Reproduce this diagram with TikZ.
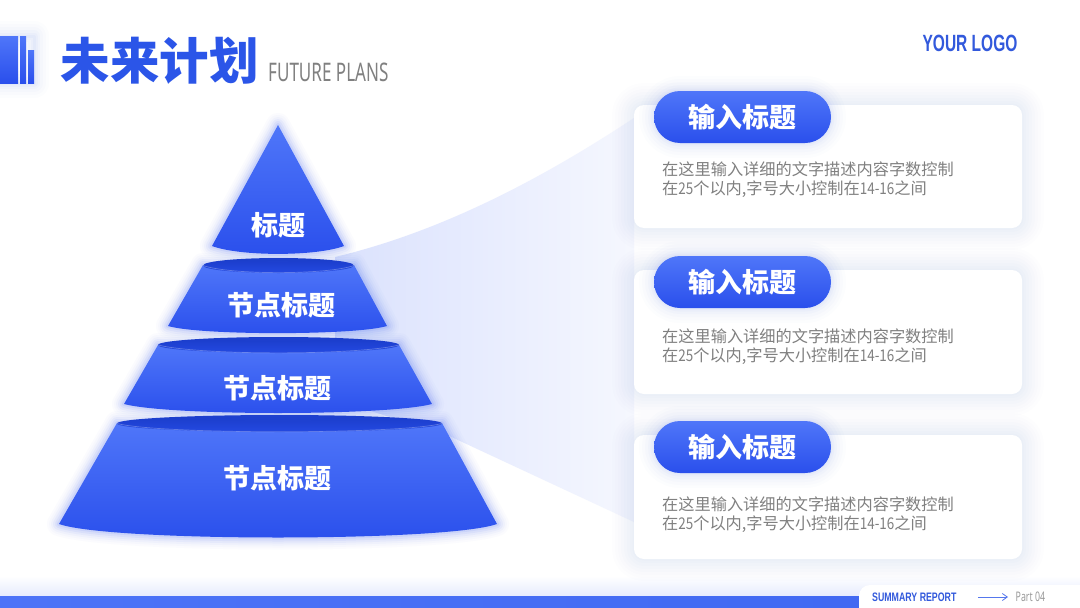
\documentclass[tikz,border=0pt]{standalone}
\usepackage{fontspec}
\usetikzlibrary{arrows.meta}
\setmainfont{Noto Sans CJK SC}
\newfontfamily\dig[FakeStretch=.83]{Noto Sans CJK SC}
\newfontfamily\cond[FakeStretch=0.666]{Noto Sans}
\newfontfamily\condb[FakeStretch=0.66]{Liberation Sans}
\newfontfamily\condc[FakeStretch=0.715]{Liberation Sans}
\definecolor{brand}{HTML}{2B55E8}
\definecolor{logoblue}{HTML}{3259DC}
\definecolor{bluetop}{HTML}{4F76F9}
\definecolor{bluebot}{HTML}{2A4FEC}
\definecolor{disctop}{HTML}{1A3CC8}
\definecolor{discbot}{HTML}{2449E2}
\definecolor{halo}{HTML}{3D63F5}
\definecolor{graytxt}{HTML}{808080}
\newcommand{\desctext}{在这里输入详细的文字描述内容字数控制\\在{\dig 25}个以内,字号大小控制在{\dig 14-16}之间}
\tikzset{
  softglow/.style={
    preaction={draw=#1,line width=44pt,opacity=.007,line join=round},
    preaction={draw=#1,line width=38pt,opacity=.008,line join=round},
    preaction={draw=#1,line width=32pt,opacity=.009,line join=round},
    preaction={draw=#1,line width=26pt,opacity=.01,line join=round},
    preaction={draw=#1,line width=20pt,opacity=.01,line join=round},
    preaction={draw=#1,line width=14pt,opacity=.011,line join=round},
    preaction={draw=#1,line width=8pt,opacity=.012,line join=round},
    preaction={draw=#1,line width=3pt,opacity=.012,line join=round}},
  pillglow/.style={
    preaction={draw=#1,line width=30pt,opacity=.012,line join=round},
    preaction={draw=#1,line width=24pt,opacity=.016,line join=round},
    preaction={draw=#1,line width=18pt,opacity=.02,line join=round},
    preaction={draw=#1,line width=12pt,opacity=.025,line join=round},
    preaction={draw=#1,line width=7pt,opacity=.03,line join=round},
    preaction={draw=#1,line width=3pt,opacity=.035,line join=round}},
  tierglow/.style={
    preaction={draw=halo,line width=24pt,opacity=.018,line join=round},
    preaction={draw=halo,line width=20pt,opacity=.025,line join=round},
    preaction={draw=halo,line width=16pt,opacity=.035,line join=round},
    preaction={draw=halo,line width=12pt,opacity=.05,line join=round},
    preaction={draw=halo,line width=8pt,opacity=.07,line join=round},
    preaction={draw=halo,line width=4pt,opacity=.09,line join=round}},
  body/.style={top color=bluetop,bottom color=bluebot,draw=none},
  disc/.style={top color=disctop,bottom color=discbot,draw=none},
  rim/.style={draw=white,draw opacity=.28,line width=.7pt},
  tierlabel/.style={text=white,font=\fontsize{27}{30}\selectfont\bfseries,inner sep=0pt},
  cardbox/.style={fill=white,draw=none,rounded corners=10pt,minimum width=388pt,minimum height=123pt,inner sep=0pt,softglow=halo},
  pill/.style={top color=bluetop,bottom color=bluebot,draw=none,rounded corners=26pt,minimum width=177pt,minimum height=52pt,inner sep=0pt,
    text=white,font=\fontsize{27}{30}\selectfont\bfseries,pillglow=halo},
  desc/.style={anchor=north west,text=graytxt,font=\fontsize{16.2}{19}\selectfont,inner sep=0pt,align=left},
  barshape/.style={top color=bluetop,bottom color=bluebot,draw=none},
}
\begin{document}
\begin{tikzpicture}[x=1pt,y=-1pt]
\useasboundingbox (0,0) rectangle (1080,608);
\fill[white] (0,0) rectangle (1080,608);
% footer haze
\shade[top color=white,bottom color=halo!13] (0,576) rectangle (1080,596);
% funnel
\shade[left color=halo!19,right color=halo!5,draw=none]
  (335,257) .. controls (440,232) and (540,180) .. (634,118) -- (634,522) -- (445,434) -- (335,400) -- cycle;
% cards
\node[cardbox] (card1) at (828,166.5) {};
\node[cardbox,minimum height=124pt] (card2) at (828,332) {};
\node[cardbox,minimum height=124pt] (card3) at (828,497) {};
\node[pill] (pill1) at (742.5,117) {输入标题};
\node[pill] (pill2) at (742.5,282) {输入标题};
\node[pill] (pill3) at (742.5,447) {输入标题};
\node[desc] (desc1) at (662,162) {\desctext};
\node[desc] (desc2) at (662,329) {\desctext};
\node[desc] (desc3) at (662,497) {\desctext};
% pyramid tiers, bottom up
\path[body,tierglow] (117,423) -- (59,524) .. controls (110,542) and (446,542) .. (497,524) -- (442,423) -- cycle;
\path[disc] (279.5,423.5) ellipse [x radius=162.5pt,y radius=8.5pt];
\draw[rim] (117,423.5) .. controls (160,434.5) and (399,434.5) .. (442,423.5);
\path[body,tierglow] (158,345) -- (124,404) .. controls (170,416) and (386,416) .. (432,404) -- (399,345) -- cycle;
\path[disc] (278.5,345) ellipse [x radius=120.5pt,y radius=8pt];
\draw[rim] (158,345) .. controls (200,355.5) and (357,355.5) .. (399,345);
\path[body,tierglow] (203,265) -- (168,326) .. controls (200,335.5) and (355,335.5) .. (387,326) -- (354,265) -- cycle;
\path[disc] (278.5,265.5) ellipse [x radius=75.5pt,y radius=7.5pt];
\draw[rim] (203,265.5) .. controls (230,275) and (327,275) .. (354,265.5);
\path[body,tierglow] (278,125) -- (212,246) .. controls (240,256.5) and (316,256.5) .. (344,246) -- cycle;
\node[tierlabel] (t1) at (278,225) {标题};
\node[tierlabel] (t2) at (281,305) {节点标题};
\node[tierlabel] (t3) at (277.5,388) {节点标题};
\node[tierlabel] (t4) at (277.5,478) {节点标题};
% header
\path[pillglow=halo,draw=none] (0,36) -- (34,36) -- (34,83) -- (0,83) -- cycle;
\shade[barshape] (0,36) rectangle (18,83);
\shade[barshape] (20,36) rectangle (26,83);
\shade[barshape] (28,50) rectangle (34,83);
\node[anchor=west,inner sep=0pt,text=brand,font=\fontsize{49.5}{52}\selectfont\bfseries] (title) at (60.5,61) {未来计划};
\node[anchor=west,inner sep=0pt,text=graytxt,font=\cond\fontsize{25.6}{28}\selectfont] (subtitle) at (268,72) {FUTURE PLANS};
\node[anchor=center,inner sep=0pt,text=logoblue,font=\condb\bfseries\fontsize{23.5}{26}\selectfont] (logo) at (970,43) {YOUR LOGO};
% footer
\shade[left color=bluetop!92!brand,right color=bluetop!60!brand] (0,596) rectangle (870,608);
\path[fill=white,draw=none,rounded corners=11pt] (859,620) -- (859,585) -- (1095,585) -- (1095,620) -- cycle;
\node[anchor=west,inner sep=0pt,text=logoblue,font=\condc\bfseries\fontsize{12.3}{14}\selectfont] (summary) at (872,597) {SUMMARY REPORT};
\coordinate (arrowstart) at (978,597);
\node[anchor=west,inner sep=0pt,text=graytxt!80,font=\cond\fontsize{13.2}{15}\selectfont] (part) at (1015.5,597) {Part 04};
\coordinate (arrowend) at (1008,597);
\draw[brand!80,line width=.8pt,-{Straight Barb[length=5pt,width=7pt]}] (arrowstart) -- (arrowend);
\end{tikzpicture}
\end{document}
